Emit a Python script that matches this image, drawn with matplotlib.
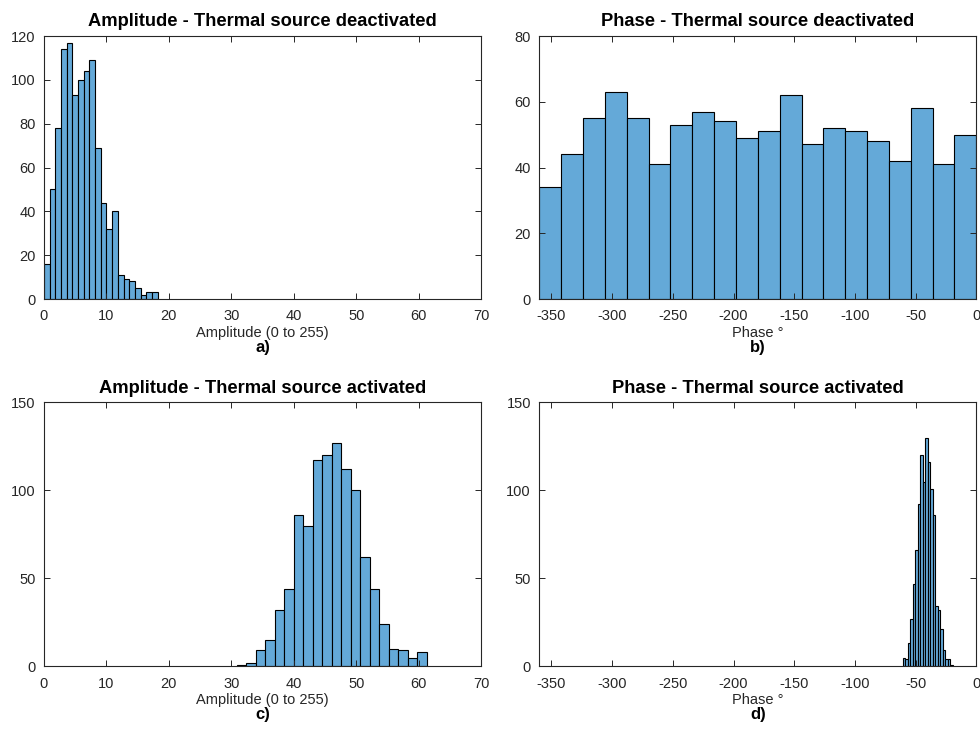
import numpy as np
import matplotlib
matplotlib.use("Agg")
import matplotlib.pyplot as plt

plt.rcParams['font.family'] = ['Liberation Sans', 'DejaVu Sans']
plt.rcParams['axes.unicode_minus'] = False

# ---- data (histogram counts) ----
amp_off_counts = [16, 50, 78, 114, 117, 93, 100, 104, 109, 69,
                  44, 32, 40, 11, 9, 8, 5, 2, 3, 3]
amp_off_range = (0.0, 18.2)

phase_off_counts = [34, 44, 55, 63, 55, 41, 53, 57, 54, 49,
                    51, 62, 47, 52, 51, 48, 42, 58, 41, 50]
phase_off_range = (-360.0, 0.0)

amp_on_counts = [1, 2, 9, 15, 32, 44, 86, 80, 117, 120,
                 127, 112, 100, 62, 44, 24, 10, 9, 5, 8]
amp_on_range = (30.9, 61.3)

phase_on_counts = [5, 4, 13, 27, 47, 66, 92, 120, 105, 130,
                   116, 101, 86, 34, 32, 21, 9, 4, 4, 1]
phase_on_range = (-60.4, -19.6)

titles = ["Amplitude - Thermal source deactivated",
          "Phase - Thermal source deactivated",
          "Amplitude - Thermal source activated",
          "Phase - Thermal source activated"]
xlabels = ["Amplitude (0 to 255)", "Phase \u00b0", "Amplitude (0 to 255)", "Phase \u00b0"]
letters = ["a)", "b)", "c)", "d)"]

amp_xticks = list(range(0, 71, 10))
phase_xticks = list(range(-350, 1, 50))
yticks_a = list(range(0, 121, 20))
yticks_b = list(range(0, 81, 20))
yticks_cd = list(range(0, 151, 50))

panels = [
    (amp_off_counts, amp_off_range, (0, 70), amp_xticks, (0, 120), yticks_a),
    (phase_off_counts, phase_off_range, (-360, 0), phase_xticks, (0, 80), yticks_b),
    (amp_on_counts, amp_on_range, (0, 70), amp_xticks, (0, 150), yticks_cd),
    (phase_on_counts, phase_on_range, (-360, 0), phase_xticks, (0, 150), yticks_cd),
]

W, H = 980, 739
fig = plt.figure(figsize=(W / 100, H / 100), dpi=100)

boxes = [
    (44, 36, 481, 299),
    (539.3, 36, 976.3, 299),
    (44, 402.3, 481, 666.3),
    (539.3, 402.3, 976.3, 666.3),
]

face = '#64a9d8'
axc = '#262626'

for i, (counts, rng, xl, xt, yl, yt) in enumerate(panels):
    x0, y0, x1, y1 = boxes[i]
    ax = fig.add_axes([x0 / W, 1 - y1 / H, (x1 - x0) / W, (y1 - y0) / H])
    edges = np.linspace(rng[0], rng[1], len(counts) + 1)
    ax.hist(edges[:-1], bins=edges, weights=counts, color=face,
            edgecolor='black', linewidth=0.8)
    ax.set_xlim(*xl)
    ax.set_ylim(*yl)
    ax.set_xticks(xt)
    ax.set_yticks(yt)
    ax.tick_params(direction='in', length=4, width=0.7, top=True, right=True,
                   labelsize=10.5, colors=axc, labelcolor=axc)
    ax.tick_params(axis='x', pad=7.5)
    ax.tick_params(axis='y', pad=6)
    for s in ax.spines.values():
        s.set_linewidth(0.8)
        s.set_color(axc)
    ax.set_title(titles[i], fontsize=13.2, fontweight='bold', pad=7)
    ax.set_xlabel(xlabels[i], fontsize=10.5, color=axc, labelpad=2)
    ax.annotate(letters[i], xy=(0.5, 0), xycoords='axes fraction',
                xytext=(0, -48), textcoords='offset pixels',
                ha='center', va='center', fontsize=12, fontweight='bold')

fig.savefig('out.png', dpi=100)
